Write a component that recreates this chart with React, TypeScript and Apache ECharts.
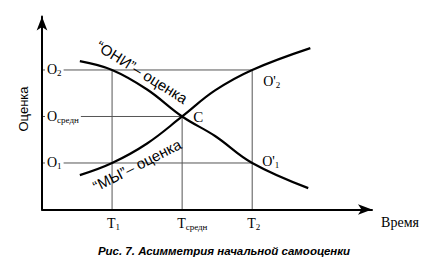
import React, { useEffect, useRef } from "react";
import * as echarts from "echarts";

// Data (abstract units: time on x, self-assessment on y)
const xTickValues = [1, 2, 3];
const xTickSubs = ["1", "средн", "2"];
const yTickValues = [1, 2, 3];
const yTickSubs = ["1", "средн", "2"];

const oniCurve = [
  [0.54, 3.19], [1, 3], [1.5, 2.58], [2, 2], [2.47, 1.58], [3, 1], [3.8, 0.46],
];
const myCurve = [
  [0.54, 0.74], [1, 1], [1.5, 1.42], [2, 2], [2.47, 2.56], [3, 3], [3.83, 3.47],
];

// guide lines: horizontal (y, up to x) and vertical (x, up to y)
const hGuides = [
  [3, 3],
  [2, 2],
  [1, 3],
];
const vGuides = [
  [1, 3],
  [2, 2],
  [3, 3],
];

const pointC = [2, 2];
const pointO2p = [3, 3];
const pointO1p = [3, 1];

const SERIF = "'Liberation Serif', 'Times New Roman', serif";
const SANS = "'Liberation Sans', Arial, sans-serif";

export default function App() {
  const ref = useRef<HTMLDivElement>(null);

  useEffect(() => {
    document.body.style.margin = "0";
    const chart = echarts.init(ref.current!, null, { renderer: "svg" });
    const guideStyle = { color: "#555", width: 1 };
    const series: any[] = [];
    hGuides.forEach(([y, x2]) =>
      series.push({
        type: "line",
        data: [[0, y], [x2, y]],
        showSymbol: false,
        lineStyle: guideStyle,
        silent: true,
        z: 1,
      })
    );
    vGuides.forEach(([x, y2]) =>
      series.push({
        type: "line",
        data: [[x, 0], [x, y2]],
        showSymbol: false,
        lineStyle: guideStyle,
        silent: true,
        z: 1,
      })
    );
    [oniCurve, myCurve].forEach((c) =>
      series.push({
        type: "line",
        data: c,
        smooth: 0.4,
        showSymbol: false,
        lineStyle: { color: "#000", width: 2.2 },
        z: 3,
      })
    );

    const axisLine = (sym: any) => ({
      show: true,
      lineStyle: { color: "#000", width: 2 },
      symbol: sym,
      symbolSize: [8, 14],
      symbolOffset: [0, 0],
    });

    chart.setOption({
      animation: false,
      backgroundColor: "#fff",
      grid: { left: 42, top: 16.5, right: 60, bottom: 58.5 },
      xAxis: {
        type: "value",
        min: 0,
        max: 4.71,
        axisLine: axisLine(["none", "arrow"]),
        axisTick: { show: false },
        axisLabel: { show: false },
        splitLine: { show: false },
        z: 5,
      },
      yAxis: {
        type: "value",
        min: 0,
        max: 4.15,
        axisLine: axisLine(["none", "arrow"]),
        axisTick: { show: false },
        axisLabel: { show: false },
        splitLine: { show: false },
        z: 5,
      },
      series,
    });

    const px = (p: number[]) =>
      chart.convertToPixel({ gridIndex: 0 }, p) as number[];
    const origin = px([0, 0]);
    const g: any[] = [];

    const richTick = {
      m: { fontFamily: SERIF, fontSize: 14, fill: "#000", lineHeight: 16 },
      s: { fontFamily: SERIF, fontSize: 9, fill: "#000", verticalAlign: "bottom", lineHeight: 14 },
    };

    yTickValues.forEach((v, i) => {
      const p = px([0, v]);
      g.push({
        type: "text",
        x: origin[0] + 3,
        y: p[1],
        z: 100,
        style: {
          text: `{m|O}{s|${yTickSubs[i]}}`,
          rich: richTick,
          align: "left",
          verticalAlign: "middle",
          backgroundColor: "#fff",
          padding: [0, 2, 0, 2],
        },
      });
    });
    xTickValues.forEach((v, i) => {
      const p = px([v, 0]);
      g.push({
        type: "text",
        x: p[0] - 5,
        y: origin[1] + 14,
        z: 100,
        style: {
          text: `{m|T}{s|${xTickSubs[i]}}`,
          rich: richTick,
          align: "left",
          verticalAlign: "middle",
        },
      });
    });

    const c = px(pointC);
    g.push({
      type: "text",
      x: c[0] + 11,
      y: c[1] + 1,
      z: 100,
      style: { text: "C", fontFamily: SERIF, fontSize: 15, fill: "#000", align: "left", verticalAlign: "middle" },
    });
    const o2 = px(pointO2p);
    g.push({
      type: "text",
      x: o2[0] + 11,
      y: o2[1] + 12,
      z: 100,
      style: { text: "{m|O'}{s|2}", rich: richTick, align: "left", verticalAlign: "middle" },
    });
    const o1 = px(pointO1p);
    g.push({
      type: "text",
      x: o1[0] + 10,
      y: o1[1] - 1,
      z: 100,
      style: { text: "{m|O'}{s|1}", rich: richTick, align: "left", verticalAlign: "middle" },
    });

    g.push({
      type: "text",
      x: 23,
      y: 109,
      rotation: Math.PI / 2,
      z: 100,
      style: { text: "Оценка", fontFamily: SANS, fontSize: 13, fill: "#000", align: "center", verticalAlign: "middle" },
    });
    g.push({
      type: "text",
      x: 400,
      y: 222,
      z: 100,
      style: { text: "Время", fontFamily: SERIF, fontSize: 14, fill: "#000", align: "center", verticalAlign: "middle" },
    });
    g.push({
      type: "text",
      x: 224,
      y: 251,
      z: 100,
      style: {
        text: "Рис. 7. Асимметрия начальной самооценки",
        fontFamily: SANS,
        fontSize: 11.5,
        fontWeight: "bold",
        fontStyle: "italic",
        fill: "#000",
        align: "center",
        verticalAlign: "middle",
      },
    });
    g.push({
      type: "text",
      x: 142,
      y: 72,
      rotation: (-32 * Math.PI) / 180,
      z: 100,
      style: { text: "“ОНИ”– оценка", fontFamily: SANS, fontSize: 15, fill: "#000", align: "center", verticalAlign: "middle" },
    });
    g.push({
      type: "text",
      x: 137,
      y: 165,
      rotation: (27 * Math.PI) / 180,
      z: 100,
      style: { text: "“МЫ”– оценка", fontFamily: SANS, fontSize: 15, fill: "#000", align: "center", verticalAlign: "middle" },
    });

    chart.setOption({ graphic: g });
    return () => chart.dispose();
  }, []);

  return (
    <div
      ref={ref}
      style={{ position: "fixed", left: 0, top: 0, width: 432, height: 268 }}
    />
  );
}
